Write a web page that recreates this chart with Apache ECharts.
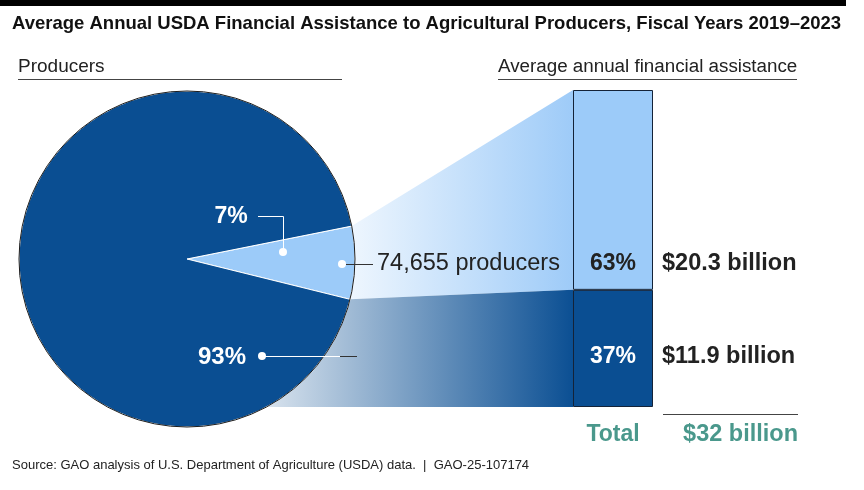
<!DOCTYPE html>
<html>
<head>
<meta charset="utf-8">
<script src="https://cdn.jsdelivr.net/npm/echarts@6/dist/echarts.min.js"></script>
<style>
  html, body { margin: 0; padding: 0; background: #fff; }
  #main { width: 864px; height: 490px; }
</style>
</head>
<body>
<div id="main"></div>
<script>
// data
const producerNames = ['74,655 producers', 'Other producers']
const producerPct = [7, 93]
const assistanceBillions = [20.3, 11.9]   // same order as producers
const assistancePct = [63, 37]
const totalBillions = 32

const FONT = 'Liberation Sans'
const LIGHT = '#9ccbf9'
const DARK = '#0a4e92'
const TEAL = '#4a988c'
const INK = '#222'

// layout
const pieCenter = [187, 259]
const pieRadius = 168
const pieStart = 11.3
const gridBox = { left: 573, top: 90, width: 80, height: 317 }
const rowY = [264, 357]   // the two label rows

const chart = echarts.init(document.getElementById('main'))
const assistSum = assistanceBillions[0] + assistanceBillions[1]

const option = {
    animation: false,
    title: {
        text: 'Average Annual USDA Financial Assistance to Agricultural Producers, Fiscal Years 2019\u20132023',
        left: 7,
        top: 9,
        textStyle: { fontFamily: FONT, fontSize: 18.5, fontWeight: 'bold', color: '#111' }
    },
    grid: gridBox,
    xAxis: { type: 'category', data: ['assistance'], show: false },
    yAxis: { type: 'value', min: 0, max: assistSum, show: false },
    series: [
        {
            type: 'pie',
            center: pieCenter,
            radius: pieRadius,
            startAngle: pieStart,
            clockwise: true,
            silent: true,
            z: 3,
            label: { show: false },
            labelLine: { show: false },
            itemStyle: { borderColor: '#fff', borderWidth: 1 },
            data: [
                { name: producerNames[0], value: producerPct[0], itemStyle: { color: LIGHT } },
                { name: producerNames[1], value: producerPct[1], itemStyle: { color: DARK } }
            ]
        },
        {
            // thin dark rim round the pie
            type: 'pie',
            center: pieCenter,
            radius: pieRadius,
            silent: true,
            z: 4,
            label: { show: false },
            labelLine: { show: false },
            data: [{ value: 1, itemStyle: { color: 'rgba(0,0,0,0)', borderColor: '#1c1c1c', borderWidth: 1 } }]
        },
        {
            type: 'bar',
            stack: 'assist',
            barWidth: '100%',
            silent: true,
            z: 3,
            itemStyle: { color: DARK, borderColor: '#142338', borderWidth: 1 },
            data: [assistanceBillions[1]]
        },
        {
            type: 'bar',
            stack: 'assist',
            barWidth: '100%',
            silent: true,
            z: 3,
            itemStyle: { color: LIGHT, borderColor: '#142338', borderWidth: 1 },
            data: [assistanceBillions[0]]
        }
    ]
}
chart.setOption(option)

// connectors and labels, placed from the pie angles and the bar scale
const [cx, cy] = pieCenter
const a0 = pieStart * Math.PI / 180
const a1 = (pieStart - 360 * producerPct[0] / 100) * Math.PI / 180
const up = [cx + pieRadius * Math.cos(a0), cy - pieRadius * Math.sin(a0)]
const lo = [cx + pieRadius * Math.cos(a1), cy - pieRadius * Math.sin(a1)]
const topPx = chart.convertToPixel({ gridIndex: 0 }, ['assistance', assistSum])
const splitPx = chart.convertToPixel({ gridIndex: 0 }, ['assistance', assistanceBillions[1]])
const botPx = chart.convertToPixel({ gridIndex: 0 }, ['assistance', 0])
const barL = gridBox.left
const barMid = topPx[0]
const barR = gridBox.left + gridBox.width

function txt(text, x, y, size, weight, color, align) {
    return {
        type: 'text', z: 10, silent: true,
        style: {
            text: text, x: x, y: y, fill: color,
            fontFamily: FONT, fontSize: size, fontWeight: weight,
            align: align || 'left', verticalAlign: 'middle'
        }
    }
}
function line(pts, color) {
    return { type: 'polyline', z: 10, silent: true, shape: { points: pts }, style: { stroke: color, lineWidth: 1, fill: null } }
}
function dot(x, y) {
    return { type: 'circle', z: 10, silent: true, shape: { cx: x, cy: y, r: 4 }, style: { fill: '#fff' } }
}

const graphics = [
    { type: 'rect', z: 10, shape: { x: 0, y: 0, width: 846, height: 6 }, style: { fill: '#000' } },
    txt('Producers', 18, 67, 19, 'normal', INK),
    line([[18, 79.5], [342, 79.5]], '#444'),
    txt('Average annual financial assistance', 498, 67, 18.8, 'normal', INK),
    line([[498, 79.5], [797, 79.5]], '#444'),
    // light connector
    {
        type: 'polygon', z: 1, silent: true,
        shape: { points: [[cx, cy], up, [barL, topPx[1]], [barL, splitPx[1]], lo] },
        style: {
            fill: {
                type: 'linear', x: lo[0], y: 0, x2: barL, y2: 0, global: true,
                colorStops: [{ offset: 0, color: '#eef6fe' }, { offset: 1, color: '#9ecbf8' }]
            }
        }
    },
    // dark connector
    {
        type: 'polygon', z: 1, silent: true,
        shape: { points: [[cx, cy], lo, [barL, splitPx[1]], [barL, botPx[1]], [cx, botPx[1]]] },
        style: {
            fill: {
                type: 'linear', x: 262, y: 0, x2: barL, y2: 0, global: true,
                colorStops: [{ offset: 0, color: '#dbe5ef' }, { offset: 1, color: '#0b4f93' }]
            }
        }
    },
    // 7% label
    txt(producerPct[0] + '%', 231, 217, 23, 'bold', '#fff', 'center'),
    line([[258, 216.5], [283.5, 216.5], [283.5, 252]], '#fff'),
    dot(283, 252),
    // 74,655 producers
    dot(342, rowY[0]),
    line([[346, rowY[0] + 0.5], [373, rowY[0] + 0.5]], '#333'),
    txt(producerNames[0], 377, rowY[0], 23.5, 'normal', INK),
    // 93% label
    txt(producerPct[1] + '%', 222, rowY[1], 24, 'bold', '#fff', 'center'),
    dot(262, rowY[1] - 1),
    line([[262, rowY[1] - 0.5], [340, rowY[1] - 0.5]], '#fff'),
    line([[340, rowY[1] - 0.5], [357, rowY[1] - 0.5]], '#333'),
    // bar labels
    txt(assistancePct[0] + '%', barMid, rowY[0], 23, 'bold', INK, 'center'),
    txt(assistancePct[1] + '%', barMid, rowY[1], 23, 'bold', '#fff', 'center'),
    txt('$' + assistanceBillions[0] + ' billion', barR + 9, rowY[0], 23.5, 'bold', INK),
    txt('$' + assistanceBillions[1] + ' billion', barR + 9, rowY[1], 23.5, 'bold', INK),
    // total
    line([[663, 414.5], [798, 414.5]], '#444'),
    txt('Total', barMid, 435, 23, 'bold', TEAL, 'center'),
    txt('$' + totalBillions + ' billion', 798, 435, 23.5, 'bold', TEAL, 'right'),
    // source
    txt('Source: GAO analysis of U.S. Department of Agriculture (USDA) data.  |  GAO-25-107174', 12, 465, 13, 'normal', INK)
]
chart.setOption({ graphic: graphics })

window.addEventListener('resize', () => {
    chart.resize()
})
</script>
</body>
</html>
